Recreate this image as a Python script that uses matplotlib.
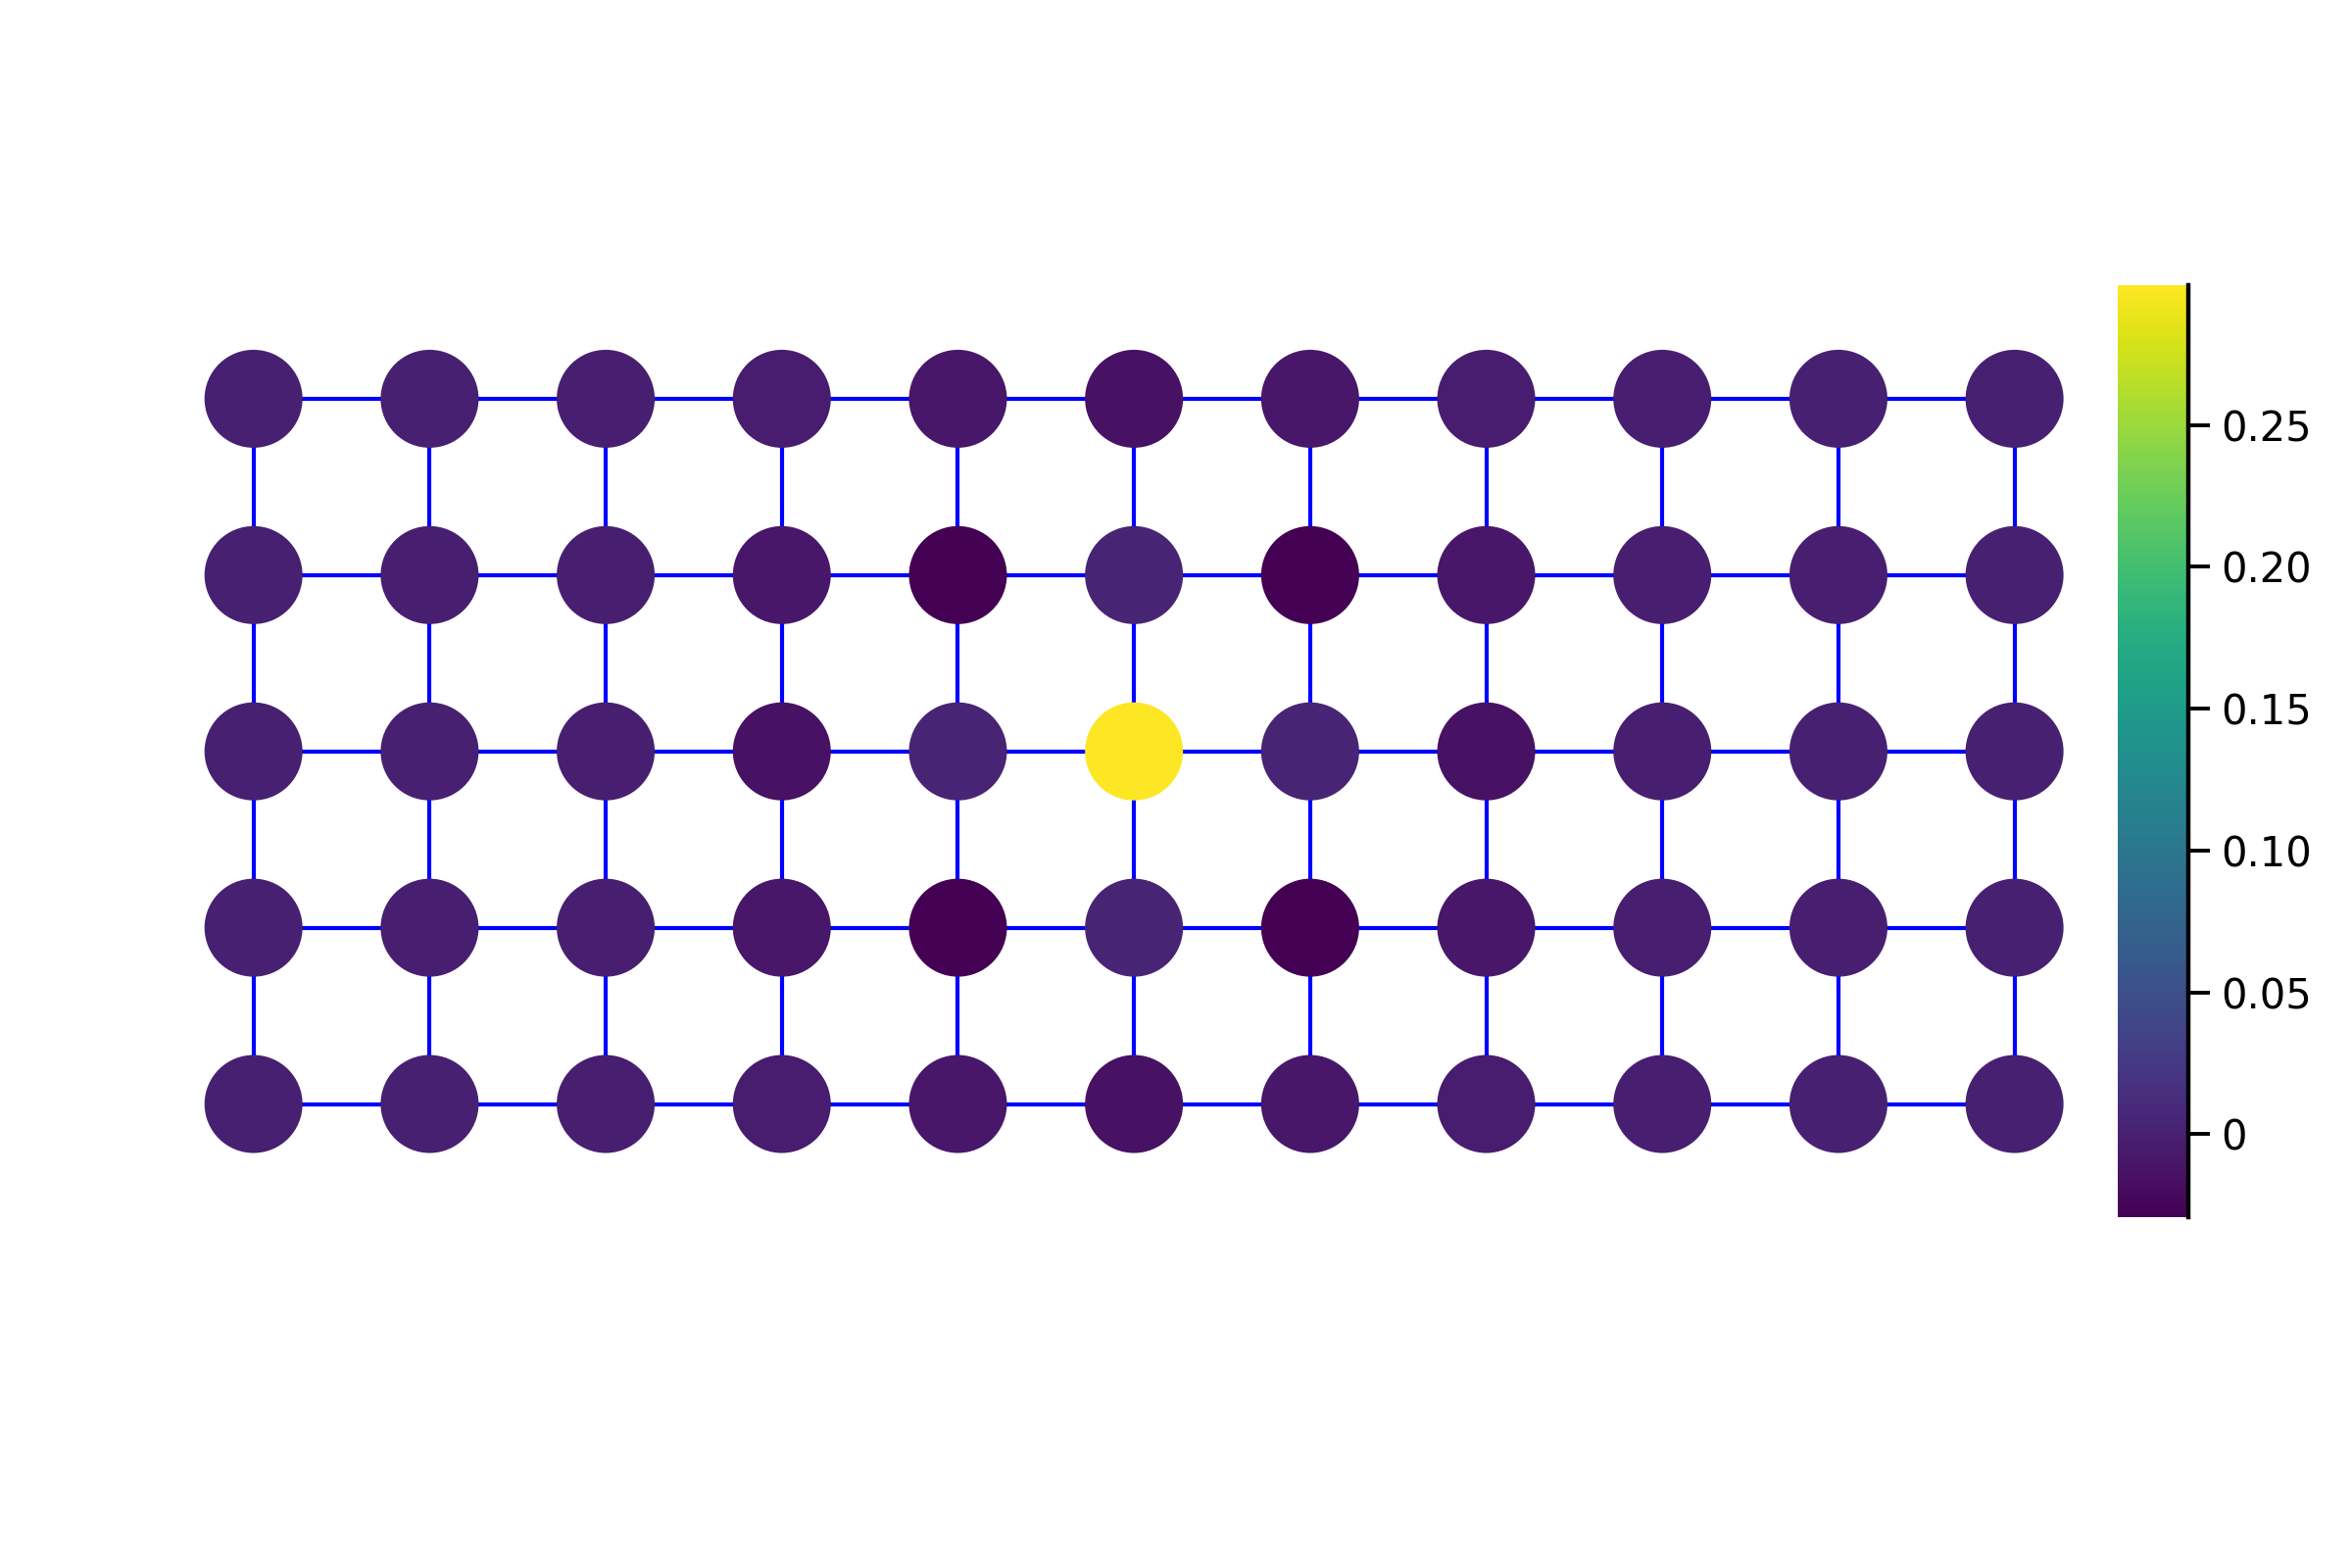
import matplotlib
matplotlib.use("Agg")
import matplotlib.pyplot as plt
import numpy as np
from matplotlib.collections import LineCollection
from matplotlib.ticker import FixedLocator, FuncFormatter

# node values on the 5 x 11 grid (row 0 = top)
row_0 = [0.0, 0.0, -0.001, -0.004, -0.009, -0.015, -0.009, -0.004, -0.001, 0.0, 0.0]
row_1 = [0.0, -0.001, -0.002, -0.009, -0.029, 0.004, -0.029, -0.009, -0.002, -0.001, 0.0]
row_2 = [0.0, 0.0, -0.002, -0.014, 0.004, 0.299, 0.004, -0.014, -0.002, 0.0, 0.0]
row_3 = [0.0, -0.001, -0.002, -0.009, -0.029, 0.004, -0.029, -0.009, -0.002, -0.001, 0.0]
row_4 = [0.0, 0.0, -0.001, -0.004, -0.009, -0.015, -0.009, -0.004, -0.001, 0.0, 0.0]
color_min = -0.0292
color_max = 0.2994
cbar_ticks = [0.0, 0.05, 0.10, 0.15, 0.20, 0.25]
cbar_labels = ["0", "0.05", "0.10", "0.15", "0.20", "0.25"]

values = np.array([row_0, row_1, row_2, row_3, row_4])
n_rows, n_cols = values.shape
cols, rows = np.meshgrid(np.arange(n_cols), np.arange(n_rows))

# grid edges between horizontal and vertical neighbours
segments = []
for r in range(n_rows):
    for c in range(n_cols):
        if c + 1 < n_cols:
            segments.append([(c, r), (c + 1, r)])
        if r + 1 < n_rows:
            segments.append([(c, r), (c, r + 1)])

fig = plt.figure(figsize=(12, 8), dpi=200)
ax = fig.add_axes([0.07035, 0.2397, 0.8236, 0.5622])
ax.add_collection(LineCollection(segments, colors="#0000ff", linewidths=1.5, zorder=1))
sc = ax.scatter(
    cols.ravel(),
    rows.ravel(),
    c=values.ravel(),
    cmap="viridis",
    vmin=color_min,
    vmax=color_max,
    s=1296,
    linewidths=0,
    zorder=2,
)
ax.set_xlim(-0.5, n_cols - 0.5)
ax.set_ylim(n_rows - 0.5, -0.5)
ax.axis("off")

cax = fig.add_axes([0.9004, 0.22375, 0.030, 0.5946])
cb = fig.colorbar(sc, cax=cax)
cb.outline.set_visible(False)
cax.plot([1, 1], [0, 1], transform=cax.transAxes, color="black", lw=1.6, clip_on=False)
cax.yaxis.set_major_locator(FixedLocator(cbar_ticks))
cax.yaxis.set_major_formatter(FuncFormatter(lambda v, pos: cbar_labels[pos] if pos is not None and pos < len(cbar_labels) else ""))
cax.tick_params(axis="y", direction="out", length=8, width=1.4, pad=4, labelsize=15)
cax.yaxis.set_minor_locator(FixedLocator([]))

fig.savefig("out.png", dpi=200)
